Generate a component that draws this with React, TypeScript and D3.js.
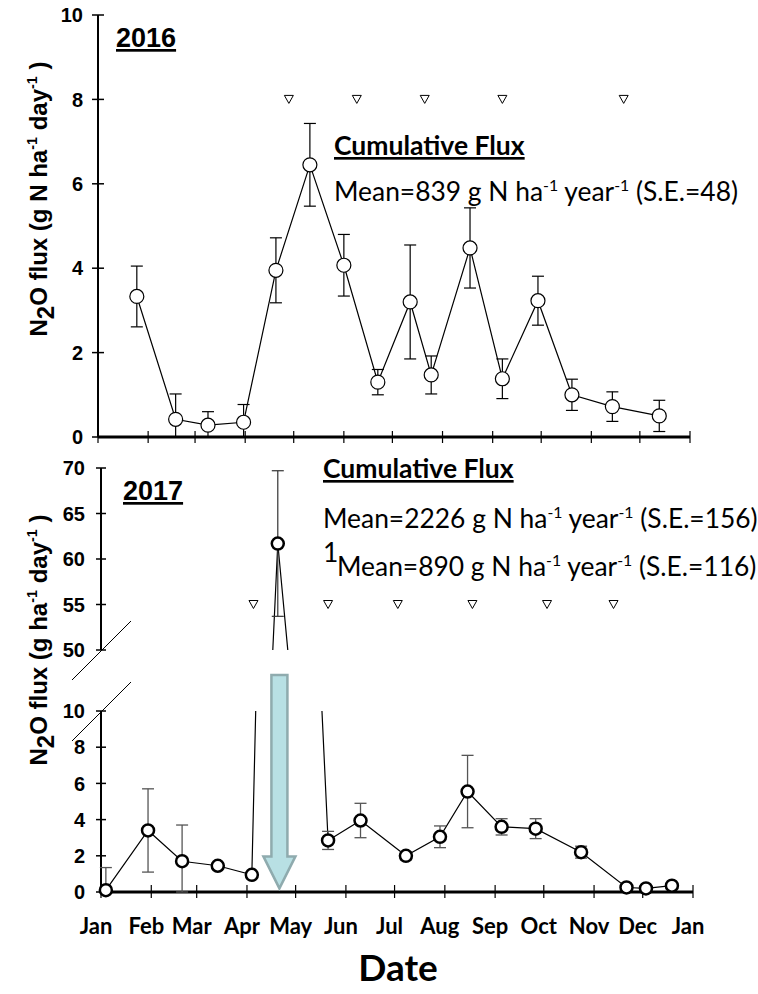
import React from "react";
import * as d3 from "d3";

// ---- 2016 sampling campaign ----
const dates2016 = [
  "2016-01-25", "2016-02-18", "2016-03-09", "2016-03-31", "2016-04-20", "2016-05-11",
  "2016-06-01", "2016-06-22", "2016-07-12", "2016-07-25", "2016-08-18", "2016-09-07",
  "2016-09-29", "2016-10-20", "2016-11-14", "2016-12-13",
];
const flux2016 = [3.33, 0.42, 0.28, 0.35, 3.95, 6.45, 4.07, 1.3, 3.2, 1.47, 4.48, 1.38, 3.23, 1.0, 0.72, 0.5];
const se2016 = [0.72, 0.6, 0.32, 0.42, 0.77, 0.98, 0.73, 0.3, 1.35, 0.45, 0.95, 0.47, 0.58, 0.37, 0.35, 0.37];
const events2016 = ["2016-04-28", "2016-06-09", "2016-07-21", "2016-09-07", "2016-11-21"];

// ---- 2017 sampling campaign ----
const dates2017 = [
  "2017-01-04", "2017-01-30", "2017-02-20", "2017-03-14", "2017-04-04", "2017-04-20",
  "2017-05-21", "2017-06-10", "2017-07-08", "2017-07-29", "2017-08-15", "2017-09-05",
  "2017-09-26", "2017-10-24", "2017-11-21", "2017-12-03", "2017-12-19",
];
const flux2017 = [0.1, 3.4, 1.7, 1.45, 0.95, 61.7, 2.85, 3.95, 2.0, 3.05, 5.55, 3.6, 3.5, 2.2, 0.25, 0.2, 0.35];
const se2017 = [1.25, 2.3, 2.0, 0.15, 0.1, 8.0, 0.5, 0.95, 0.22, 0.6, 2.0, 0.45, 0.55, 0.33, 0.05, 0.05, 0.07];
const events2017 = ["2017-04-05", "2017-05-21", "2017-07-03", "2017-08-18", "2017-10-03", "2017-11-13"];
const arrowDate2017 = "2017-04-21";

const yTicks2016 = [0, 2, 4, 6, 8, 10];
const yTicksLow2017 = [0, 2, 4, 6, 8, 10];
const yTicksHigh2017 = [50, 55, 60, 65, 70];
const monthLabels = ["Jan", "Feb", "Mar", "Apr", "May", "Jun", "Jul", "Aug", "Sep", "Oct", "Nov", "Dec", "Jan"];

const eventLevel2016 = 8;
const eventLevel2017 = 55;

const parse = d3.timeParse("%Y-%m-%d");

const BOLD = "'Liberation Sans', Arial, sans-serif";
const CAL = "Lato, 'Open Sans', sans-serif";

function Triangle({ x, y }: { x: number; y: number }) {
  return <path d={`M${x - 4.5},${y - 4} L${x + 4.5},${y - 4} L${x},${y + 4} Z`} fill="white" stroke="#000" strokeWidth={1} />;
}

function ErrBar({ x, y0, y1, cap, color, sw }: { x: number; y0: number; y1: number; cap: number; color: string; sw: number }) {
  return (
    <g stroke={color} strokeWidth={sw}>
      <line x1={x} x2={x} y1={y0} y2={y1} />
      <line x1={x - cap} x2={x + cap} y1={y1} y2={y1} />
      <line x1={x - cap} x2={x + cap} y1={y0} y2={y0} />
    </g>
  );
}

export default function App() {
  // top panel scales
  const xTop = d3.scaleTime().domain([new Date(2016, 0, 1), new Date(2017, 0, 1)]).range([98, 690]);
  const yTop = d3.scaleLinear().domain([0, 10]).range([437, 15]);

  // bottom panel scales: broken axis with two linear segments
  const xBot = d3.scaleTime().domain([new Date(2017, 0, 1), new Date(2018, 0, 1)]).range([101, 693]);
  const yLow = d3.scaleLinear().domain([0, 10]).range([892, 711]);
  const yHigh = d3.scaleLinear().domain([50, 70]).range([650, 468]);

  const top = dates2016.map((d, i) => ({ t: parse(d)!, v: flux2016[i], se: se2016[i] }));
  const bot = dates2017.map((d, i) => ({ t: parse(d)!, v: flux2017[i], se: se2017[i] }));

  const lineTop = d3.line<any>().x((d) => xTop(d.t)).y((d) => yTop(d.v));
  const lineLow = d3.line<any>().x((d) => xBot(d.t)).y((d) => yLow(d.v));
  const lineHigh = d3.line<any>().x((d) => xBot(d.t)).y((d) => yHigh(d.v));

  const monthsTop = d3.timeMonth.range(new Date(2016, 0, 1), new Date(2017, 0, 2));
  const monthsBot = d3.timeMonth.range(new Date(2017, 0, 1), new Date(2018, 0, 2));

  const ax = xBot(parse(arrowDate2017)!);
  const arrowTop = yHigh(50) + 25;
  const arrowTip = yLow(0.2);
  const arrowPath = `M${ax - 8},${arrowTop} L${ax + 8},${arrowTop} L${ax + 8},${arrowTip - 32} L${ax + 16},${arrowTip - 32} L${ax},${arrowTip} L${ax - 16},${arrowTip - 32} L${ax - 8},${arrowTip - 32} Z`;

  const sup = (s: string) => (
    <>
      <tspan dy={-10} fontSize="0.6em">{s}</tspan>
      <tspan dy={10}> </tspan>
    </>
  );

  return (
    <svg width={758} height={994} style={{ display: "block", position: "absolute", left: 0, top: 0 }}>
      <rect width={758} height={994} fill="white" />
      <defs>
        <clipPath id="clipLow">
          <rect x={0} y={yLow(10)} width={758} height={300} />
        </clipPath>
        <clipPath id="clipHigh">
          <rect x={0} y={0} width={758} height={yHigh(50)} />
        </clipPath>
      </defs>

      {/* ===== 2016 panel ===== */}
      <g>
        <line x1={98} x2={98} y1={yTop(10)} y2={yTop(0)} stroke="#000" strokeWidth={2} />
        <line x1={98} x2={690} y1={yTop(0)} y2={yTop(0)} stroke="#000" strokeWidth={3} />
        {yTicks2016.map((t) => (
          <g key={t}>
            <line x1={92} x2={104} y1={yTop(t)} y2={yTop(t)} stroke="#000" strokeWidth={1.5} />
            <text x={83} y={yTop(t)} dy="0.36em" textAnchor="end" fontFamily={BOLD} fontWeight="bold" fontSize={20}>{t}</text>
          </g>
        ))}
        {monthsTop.map((m, i) => (
          <line key={i} x1={xTop(m)} x2={xTop(m)} y1={yTop(0) - 6} y2={yTop(0) + 6} stroke="#000" strokeWidth={1.2} />
        ))}
        <path d={lineTop(top)!} fill="none" stroke="#000" strokeWidth={1.2} />
        {top.map((d, i) => (
          <ErrBar key={i} x={xTop(d.t)} y0={yTop(Math.max(0, d.v - d.se))} y1={yTop(d.v + d.se)} cap={6} color="#000" sw={1.2} />
        ))}
        {top.map((d, i) => (
          <circle key={i} cx={xTop(d.t)} cy={yTop(d.v)} r={7} fill="white" stroke="#000" strokeWidth={1.2} />
        ))}
        {events2016.map((e, i) => (
          <Triangle key={i} x={xTop(parse(e)!)} y={yTop(eventLevel2016)} />
        ))}
        <text x={116} y={47} fontFamily={BOLD} fontWeight="bold" fontSize={27} textDecoration="underline">2016</text>
        <text x={334} y={155} fontFamily={CAL} fontWeight="bold" fontSize={26.5} textDecoration="underline">Cumulative Flux</text>
        <text x={334} y={201} fontFamily={CAL} fontSize={26.4}>
          Mean=839 g N ha{sup("-1")}year{sup("-1")}(S.E.=48)
        </text>
        <text transform={`translate(47,199) rotate(-90)`} textAnchor="middle" fontFamily={BOLD} fontWeight="bold" fontSize={24}>
          N<tspan dy={7}>2</tspan><tspan dy={-7}>O flux (g N ha</tspan>{sup("-1")}day{sup("-1")})
        </text>
      </g>

      {/* ===== 2017 panel ===== */}
      <g>
        <line x1={101} x2={101} y1={yHigh(70)} y2={yHigh(50)} stroke="#000" strokeWidth={2} />
        <line x1={101} x2={101} y1={yLow(10)} y2={yLow(0)} stroke="#000" strokeWidth={2} />
        <line x1={101} x2={693} y1={yLow(0)} y2={yLow(0)} stroke="#000" strokeWidth={3} />
        {/* axis break marks */}
        <line x1={72} x2={131} y1={yHigh(50) + 30} y2={yHigh(50) - 29} stroke="#000" strokeWidth={1} />
        <line x1={72} x2={131} y1={yLow(10) + 30} y2={yLow(10) - 29} stroke="#000" strokeWidth={1} />
        {yTicksHigh2017.map((t) => (
          <g key={t}>
            <line x1={96} x2={106} y1={yHigh(t)} y2={yHigh(t)} stroke="#000" strokeWidth={1.5} />
            <text x={85} y={yHigh(t)} dy="0.36em" textAnchor="end" fontFamily={BOLD} fontWeight="bold" fontSize={20}>{t}</text>
          </g>
        ))}
        {yTicksLow2017.map((t) => (
          <g key={t}>
            <line x1={96} x2={106} y1={yLow(t)} y2={yLow(t)} stroke="#000" strokeWidth={1.5} />
            <text x={85} y={yLow(t)} dy="0.36em" textAnchor="end" fontFamily={BOLD} fontWeight="bold" fontSize={20}>{t}</text>
          </g>
        ))}
        {monthsBot.map((m, i) => (
          <g key={i}>
            <line x1={xBot(m)} x2={xBot(m)} y1={yLow(0) - 7} y2={yLow(0) + 6} stroke="#000" strokeWidth={1.2} />
            <text x={xBot(m) - 5} y={934} textAnchor="middle" fontFamily={CAL} fontWeight="bold" fontSize={22}>{monthLabels[i]}</text>
          </g>
        ))}

        <path d={arrowPath} fill="#b8e0e4" stroke="#8fabae" strokeWidth={2.5} />

        <g clipPath="url(#clipLow)">
          <path d={lineLow(bot)!} fill="none" stroke="#000" strokeWidth={1.2} />
          {bot.map((d, i) => (
            <ErrBar key={i} x={xBot(d.t)} y0={yLow(Math.max(0, d.v - d.se))} y1={yLow(d.v + d.se)} cap={6} color="#555" sw={1.3} />
          ))}
          {bot.filter((d) => d.v <= 10).map((d, i) => (
            <circle key={i} cx={xBot(d.t)} cy={yLow(d.v)} r={6} fill="white" stroke="#000" strokeWidth={2.5} />
          ))}
        </g>
        <g clipPath="url(#clipHigh)">
          <path d={lineHigh(bot)!} fill="none" stroke="#000" strokeWidth={1.2} />
          {bot.filter((d) => d.v >= 50).map((d, i) => (
            <g key={i}>
              <ErrBar x={xBot(d.t)} y0={yHigh(d.v - d.se)} y1={yHigh(d.v + d.se)} cap={6} color="#333" sw={1.2} />
              <circle cx={xBot(d.t)} cy={yHigh(d.v)} r={6} fill="white" stroke="#000" strokeWidth={2.5} />
            </g>
          ))}
        </g>
        {events2017.map((e, i) => (
          <Triangle key={i} x={xBot(parse(e)!)} y={yHigh(eventLevel2017)} />
        ))}

        <text x={123} y={500} fontFamily={BOLD} fontWeight="bold" fontSize={27} textDecoration="underline">2017</text>
        <text x={323} y={478} fontFamily={CAL} fontWeight="bold" fontSize={26.5} textDecoration="underline">Cumulative Flux</text>
        <text x={323} y={528} fontFamily={CAL} fontSize={26.4}>
          Mean=2226 g N ha{sup("-1")}year{sup("-1")}(S.E.=156)
        </text>
        <text x={323} y={562} fontFamily={CAL} fontSize={26.4}>1</text>
        <text x={337} y={576} fontFamily={CAL} fontSize={26.4}>
          Mean=890 g N ha{sup("-1")}year{sup("-1")}(S.E.=116)
        </text>
        <text transform={`translate(47,640) rotate(-90)`} textAnchor="middle" fontFamily={BOLD} fontWeight="bold" fontSize={24}>
          N<tspan dy={7}>2</tspan><tspan dy={-7}>O flux (g ha</tspan>{sup("-1")}day{sup("-1")})
        </text>
        <text x={398} y={981} textAnchor="middle" fontFamily={CAL} fontWeight="bold" fontSize={37}>Date</text>
      </g>
    </svg>
  );
}
